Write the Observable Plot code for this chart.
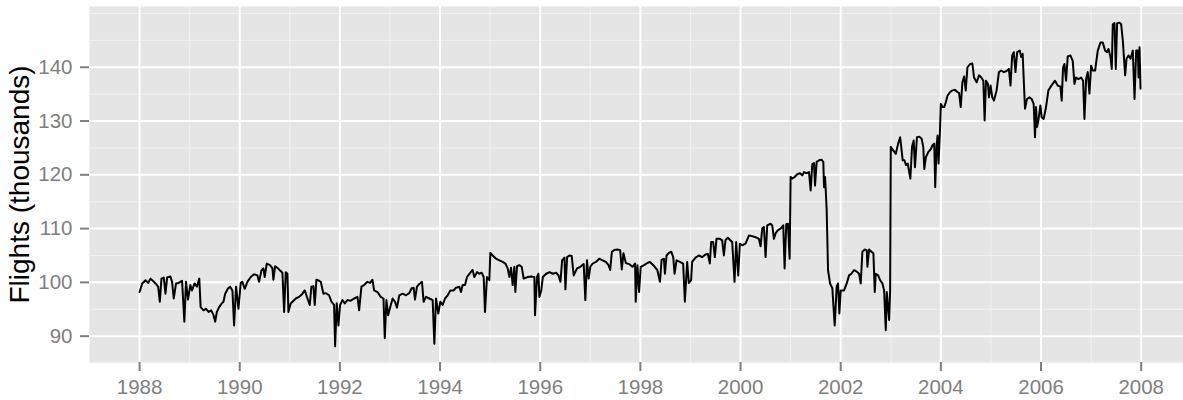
<!DOCTYPE html>
<html><head><meta charset="utf-8">
<script src="https://cdn.jsdelivr.net/npm/d3@7"></script>
<script src="https://cdn.jsdelivr.net/npm/@observablehq/plot@0.6"></script>
<style>html,body{margin:0;padding:0;background:#fff}#chart svg{display:block}</style>
</head><body><div id="chart"></div>
<script>
// Decimal year of each observation
const years = [
1988.000,1988.053,1988.119,1988.172,1988.219,1988.285,1988.318,1988.371,1988.404,1988.437,1988.483,1988.517,1988.550,1988.616,1988.649,1988.682,1988.728,1988.781,1988.848,1988.894,1988.927,1988.967,
1989.013,1989.046,1989.099,1989.146,1989.192,1989.219,1989.278,1989.325,1989.377,1989.430,1989.477,1989.510,1989.543,1989.589,1989.642,1989.675,1989.709,1989.762,1989.808,1989.854,1989.887,1989.927,1989.974,
1990.020,1990.053,1990.100,1990.153,1990.220,1990.286,1990.353,1990.386,1990.433,1990.473,1990.499,1990.539,1990.606,1990.653,1990.672,1990.706,1990.752,1990.806,1990.852,1990.886,1990.919,1990.952,1990.972,
1991.019,1991.052,1991.119,1991.185,1991.252,1991.298,1991.352,1991.398,1991.431,1991.471,1991.498,1991.531,1991.585,1991.618,1991.671,1991.718,1991.784,1991.831,1991.884,1991.904,1991.937,1991.971,
1992.004,1992.051,1992.097,1992.151,1992.217,1992.284,1992.350,1992.384,1992.430,1992.483,1992.550,1992.603,1992.650,1992.683,1992.750,1992.816,1992.870,1992.896,1992.929,1992.963,
1993.016,1993.053,1993.100,1993.140,1993.186,1993.253,1993.320,1993.386,1993.433,1993.473,1993.499,1993.539,1993.586,1993.639,1993.672,1993.719,1993.786,1993.852,1993.886,1993.919,1993.965,
1994.005,1994.052,1994.099,1994.152,1994.205,1994.272,1994.318,1994.385,1994.418,1994.451,1994.498,1994.538,1994.605,1994.651,1994.684,1994.738,1994.784,1994.831,1994.871,1994.897,1994.937,1994.984,
1995.004,1995.051,1995.117,1995.184,1995.250,1995.304,1995.350,1995.384,1995.417,1995.450,1995.483,1995.503,1995.537,1995.583,1995.630,1995.670,1995.750,1995.816,1995.883,1995.896,1995.936,1995.963,1995.983,
1996.020,1996.053,1996.119,1996.186,1996.252,1996.318,1996.364,1996.404,1996.437,1996.484,1996.503,1996.537,1996.583,1996.629,1996.669,1996.735,1996.801,1996.868,1996.901,1996.934,1996.967,
1997.000,1997.046,1997.113,1997.179,1997.245,1997.311,1997.364,1997.397,1997.431,1997.477,1997.543,1997.596,1997.629,1997.662,1997.709,1997.775,1997.841,1997.894,1997.907,1997.941,1997.974,
1998.007,1998.073,1998.139,1998.192,1998.258,1998.338,1998.391,1998.424,1998.470,1998.490,1998.523,1998.570,1998.616,1998.656,1998.682,1998.722,1998.788,1998.854,1998.888,1998.934,1998.967,
1999.013,1999.033,1999.100,1999.167,1999.233,1999.300,1999.347,1999.387,1999.413,1999.453,1999.487,1999.520,1999.587,1999.633,1999.667,1999.700,1999.747,1999.800,1999.833,1999.880,1999.913,1999.953,1999.987,
2000.033,2000.100,2000.167,2000.233,2000.300,2000.367,2000.400,2000.433,2000.467,2000.500,2000.533,2000.600,2000.633,2000.667,2000.700,2000.747,2000.800,2000.853,2000.880,2000.913,2000.947,2000.980,
2001.000,2001.033,2001.080,2001.133,2001.187,2001.233,2001.267,2001.320,2001.367,2001.400,2001.433,2001.467,2001.487,2001.520,2001.567,2001.620,2001.653,2001.667,2001.687,2001.700,2001.720,2001.747,2001.787,2001.833,2001.880,2001.920,2001.947,2001.973,
2002.000,2002.067,2002.120,2002.167,2002.213,2002.267,2002.320,2002.367,2002.400,2002.433,2002.480,2002.520,2002.533,2002.567,2002.613,2002.653,2002.680,2002.700,2002.747,2002.787,2002.833,2002.867,2002.900,2002.920,2002.967,2002.987,
2003.000,2003.053,2003.100,2003.147,2003.187,2003.238,2003.272,2003.305,2003.338,2003.391,2003.424,2003.457,2003.483,2003.523,2003.570,2003.616,2003.649,2003.669,2003.702,2003.748,2003.801,2003.834,2003.868,2003.887,2003.914,2003.934,2003.954,2003.980,
2004.000,2004.033,2004.066,2004.099,2004.132,2004.185,2004.232,2004.278,2004.331,2004.364,2004.397,2004.430,2004.464,2004.497,2004.530,2004.583,2004.629,2004.662,2004.715,2004.762,2004.808,2004.848,2004.874,2004.901,2004.940,2004.960,2004.993,
2005.026,2005.060,2005.113,2005.159,2005.205,2005.258,2005.311,2005.358,2005.391,2005.424,2005.457,2005.490,2005.523,2005.576,2005.603,2005.633,2005.680,2005.720,2005.767,2005.813,2005.853,2005.880,2005.900,2005.920,2005.947,2005.987,
2006.013,2006.053,2006.100,2006.147,2006.187,2006.233,2006.280,2006.333,2006.387,2006.413,2006.440,2006.467,2006.500,2006.533,2006.587,2006.633,2006.667,2006.700,2006.747,2006.800,2006.840,2006.867,2006.900,2006.933,2006.967,
2007.000,2007.033,2007.080,2007.133,2007.187,2007.233,2007.280,2007.320,2007.347,2007.387,2007.413,2007.433,2007.467,2007.493,2007.520,2007.567,2007.600,2007.633,2007.680,2007.707,2007.747,2007.787,2007.833,2007.867,2007.900,2007.933,2007.947,2007.967,2007.987
];
// Weekly flights, thousands
const flights = [
98.2,99.8,100.4,99.9,100.7,100.1,99.8,99.2,96.4,100.7,100.9,97.9,100.9,101.1,100.1,97.0,99.8,99.9,100.3,92.7,100.1,96.8,
99.5,98.5,99.8,99.2,100.7,95.4,94.8,95.1,94.5,94.8,93.9,92.7,94.5,95.4,96.1,96.4,97.9,98.8,99.2,98.5,92.0,99.2,95.1,
99.9,100.1,98.8,100.1,101.0,101.5,101.3,100.1,102.2,102.6,101.0,103.5,103.2,102.6,100.5,103.0,102.7,102.2,101.8,94.5,101.9,101.6,94.5,
96.1,96.4,97.0,97.3,97.9,98.5,97.0,95.8,99.2,99.3,95.8,100.5,100.3,100.1,97.9,98.0,97.6,96.4,95.8,88.1,96.1,92.0,
95.8,96.7,96.1,96.7,96.6,97.0,97.3,94.8,99.2,99.5,100.1,99.9,100.5,98.5,98.2,97.3,97.0,89.6,96.7,93.9,
95.8,97.0,96.4,95.3,97.6,97.9,97.6,98.0,98.9,99.0,96.8,99.2,99.7,100.1,96.4,97.3,97.0,96.7,88.6,97.0,94.2,
96.4,95.8,97.0,97.6,98.5,98.5,99.0,99.2,98.2,99.5,99.5,101.0,101.8,102.3,101.0,101.9,101.6,101.8,101.0,94.5,101.0,100.4,
105.5,105.0,104.4,104.1,103.8,103.5,102.6,101.0,102.7,99.5,102.9,98.2,103.0,103.2,102.9,100.7,101.0,101.1,101.0,93.9,101.0,101.6,97.3,
98.5,101.0,101.6,101.9,101.6,101.8,101.3,100.1,104.1,104.6,98.7,104.7,105.0,104.9,101.3,102.6,102.9,103.4,96.7,104.1,100.7,
102.9,103.5,103.8,104.4,104.1,103.8,103.2,102.3,105.7,106.0,106.1,106.0,102.4,105.4,103.6,103.4,102.9,103.5,96.4,103.2,98.2,
102.9,103.2,103.6,103.8,103.2,102.3,100.1,104.2,104.4,101.6,105.0,105.5,105.7,104.7,101.6,104.1,103.8,103.5,96.4,103.8,99.9,
100.4,103.8,104.6,105.0,104.7,105.2,105.3,103.5,107.5,107.5,104.7,108.1,108.1,107.8,105.0,107.9,108.3,107.8,107.5,100.1,107.5,101.3,107.2,
106.9,107.2,108.7,108.6,108.4,108.1,106.7,110.0,110.3,104.7,110.6,110.9,110.6,108.1,109.1,109.7,110.0,110.6,102.6,110.8,110.9,104.4,
119.6,119.3,119.6,120.1,120.3,119.9,120.5,120.3,120.5,117.1,122.0,122.2,118.0,122.4,122.7,122.8,122.4,117.7,119.6,117.4,113.4,102.3,99.8,98.9,92.0,99.2,99.8,94.2,
98.5,98.5,99.8,101.3,101.6,102.3,102.0,101.6,99.8,105.7,106.1,106.0,102.9,106.1,105.7,105.4,98.2,101.6,101.3,100.4,99.8,98.5,91.1,98.2,93.0,98.5,
125.2,124.5,123.9,125.8,127.0,122.7,122.7,121.8,122.1,119.3,125.2,126.4,121.4,127.0,127.1,126.7,125.2,121.1,123.3,124.2,124.8,125.5,125.8,117.7,125.2,127.3,122.1,127.6,
133.2,132.6,132.6,133.5,134.7,135.4,135.7,135.8,135.4,135.2,132.6,137.2,138.3,135.7,140.0,140.6,140.7,138.1,137.2,138.5,138.1,137.5,130.1,137.5,136.9,134.4,136.6,
134.4,133.8,135.7,139.1,139.4,139.1,139.3,139.7,136.6,142.2,142.8,139.1,142.8,143.1,141.9,142.5,132.3,134.1,134.4,134.1,133.2,127.0,132.6,128.9,130.1,132.9,
130.7,130.4,132.6,135.7,136.3,136.9,137.5,136.6,136.4,133.8,140.0,140.6,137.5,142.0,142.2,141.2,136.9,138.1,137.8,138.1,137.5,130.4,137.8,139.1,135.1,
140.3,139.4,139.4,143.1,144.6,144.6,143.1,142.8,143.4,141.9,139.7,148.0,148.2,139.7,148.2,148.3,148.0,145.0,138.5,141.6,142.2,141.6,143.1,134.1,143.1,143.1,138.1,143.7,136.0
];
const xTicks = [1988,1990,1992,1994,1996,1998,2000,2002,2004,2006,2008];
const xMinor = [1987,1989,1991,1993,1995,1997,1999,2001,2003,2005,2007];
const yTicks = [90,100,110,120,130,140];
const yMinor = [85,95,105,115,125,135,145,150];
const yTitle = ["Flights (thousands)"];

const data = years.map((t, i) => ({t, v: flights[i]}));
const grey50 = "#7F7F7F";
const chart = Plot.plot({
  width: 1183, height: 400,
  marginLeft: 89, marginRight: 0, marginTop: 6, marginBottom: 38,
  style: {fontFamily: "'Liberation Sans', Arial, sans-serif", background: "white", overflow: "visible"},
  x: {domain: [1987.0, 2008.845], label: null},
  y: {domain: [85.1, 151.3], label: null},
  marks: [
    Plot.frame({fill: "#E5E5E5", stroke: null}),
    Plot.ruleX(xMinor, {stroke: "#F2F2F2", strokeWidth: 1}),
    Plot.ruleY(yMinor, {stroke: "#F2F2F2", strokeWidth: 1}),
    Plot.ruleX(xTicks, {stroke: "white", strokeWidth: 2}),
    Plot.ruleY(yTicks, {stroke: "white", strokeWidth: 2}),
    Plot.line(data, {x: "t", y: "v", stroke: "black", strokeWidth: 2}),
    Plot.axisX({ticks: xTicks, tickFormat: d3.format("d"), tickSize: 9, tickPadding: 8, fontSize: 20.5, color: grey50, strokeWidth: 2, label: null}),
    Plot.axisY({ticks: yTicks, tickFormat: d3.format("d"), tickSize: 9, tickPadding: 8, fontSize: 20.5, color: grey50, strokeWidth: 2, label: null}),
    Plot.text(yTitle, {frameAnchor: "left", textAnchor: "middle", lineAnchor: "middle", rotate: -90, dx: -69, fontSize: 28, fill: "black"})
  ]
});
document.getElementById("chart").appendChild(chart);
</script>
</body></html>
